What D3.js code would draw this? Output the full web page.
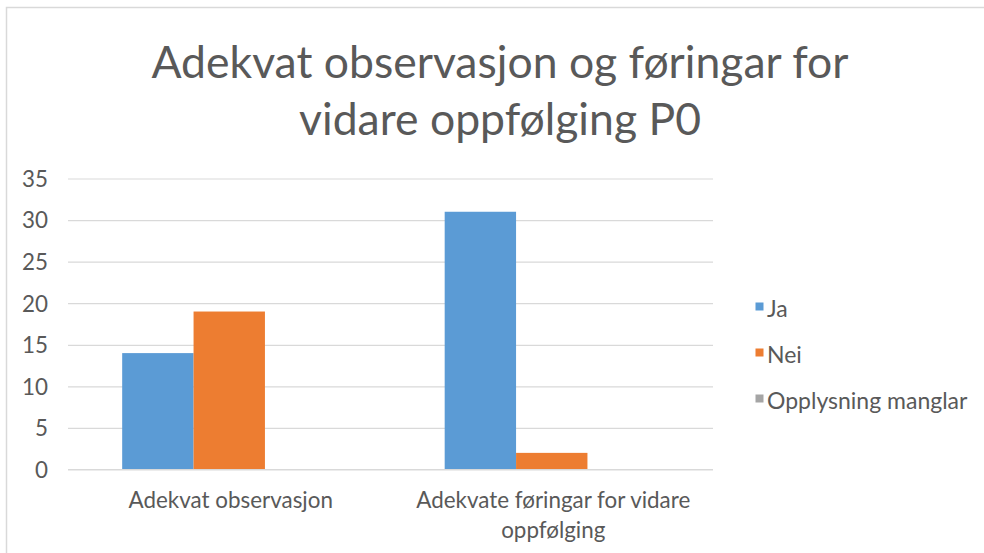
<!DOCTYPE html>
<html>
<head>
<meta charset="utf-8">
<script src="https://cdn.jsdelivr.net/npm/d3@7"></script>
<style>
  html, body { margin: 0; padding: 0; background: #fff; }
  svg { display: block; }
  text { font-family: Lato, "Open Sans", sans-serif; fill: #595959; }
</style>
</head>
<body>
<svg id="chart" width="984" height="553"></svg>
<script>
const titleLines = ["Adekvat observasjon og føringar for", "vidare oppfølging P0"];
const categories = ["Adekvat observasjon", "Adekvate føringar for vidare oppfølging"];
const categoryLines = [["Adekvat observasjon"], ["Adekvate føringar for vidare", "oppfølging"]];
const seriesNames = ["Ja", "Nei", "Opplysning manglar"];
const seriesColors = ["#5b9bd5", "#ed7d31", "#a5a5a5"];
const jaValues = [14, 31];
const neiValues = [19, 2];
const manglarValues = [0, 0];
const yTicks = [0, 5, 10, 15, 20, 25, 30, 35];

const seriesValues = [jaValues, neiValues, manglarValues];

const svg = d3.select("#chart");
const W = 984, H = 553;

// outer chart border (right/bottom run past the frame)
svg.append("rect")
  .attr("x", 6.5).attr("y", 7.5)
  .attr("width", W + 20).attr("height", H + 20)
  .attr("fill", "none").attr("stroke", "#d9d9d9").attr("stroke-width", 1.5);

// title
const title = svg.append("text")
  .attr("text-anchor", "middle")
  .style("font-size", "44.5px");
titleLines.forEach((t, i) => {
  title.append("tspan").attr("x", 500).attr("y", 78 + i * 57).text(t);
});

const plot = { left: 68, right: 713, top: 178.5, bottom: 469.5 };

const y = d3.scaleLinear().domain([0, 35]).range([plot.bottom, plot.top]);
const x0 = d3.scaleBand().domain(categories).range([plot.left, plot.right]).padding(0);
const bw = x0.bandwidth();
const gap = bw * 0.168;
const x1 = d3.scaleBand().domain(seriesNames).range([gap, bw - gap]).padding(0);

// gridlines
const yAxis = d3.axisLeft(y).tickValues(yTicks).tickSize(-(plot.right - plot.left)).tickPadding(20);
const gy = svg.append("g").attr("transform", `translate(${plot.left},0)`).call(yAxis);
gy.select(".domain").remove();
gy.selectAll(".tick line").attr("stroke", "#d9d9d9").attr("stroke-width", 1.2);
gy.selectAll(".tick text").style("font-size", "22.4px").attr("fill", "#595959")
  .attr("x", -20).attr("dy", "0.35em");

// bars
const groups = svg.append("g").selectAll("g")
  .data(categories)
  .join("g")
  .attr("transform", d => `translate(${x0(d)},0)`);

groups.selectAll("rect")
  .data((d, ci) => seriesNames.map((s, si) => ({ s, v: seriesValues[si][ci], c: seriesColors[si] })))
  .join("rect")
  .attr("x", d => x1(d.s))
  .attr("width", x1.bandwidth())
  .attr("y", d => y(d.v))
  .attr("height", d => y(0) - y(d.v))
  .attr("fill", d => d.c);

// baseline axis
svg.append("line")
  .attr("x1", plot.left).attr("x2", plot.right)
  .attr("y1", y(0)).attr("y2", y(0))
  .attr("stroke", "#d9d9d9").attr("stroke-width", 1.2);

// category labels
categories.forEach((c, i) => {
  const t = svg.append("text").attr("text-anchor", "middle").style("font-size", "22.4px");
  categoryLines[i].forEach((line, j) => {
    t.append("tspan").attr("x", x0(c) + bw / 2 + 1.5).attr("y", 508 + j * 30).text(line);
  });
});

// legend
const legend = svg.append("g");
seriesNames.forEach((s, i) => {
  const ly = 309 + i * 46;
  legend.append("rect").attr("x", 755.5).attr("y", ly - 6.5).attr("width", 8).attr("height", 8).attr("fill", seriesColors[i]);
  legend.append("text").attr("x", 767).attr("y", ly).attr("dy", "0.35em").style("font-size", "23px").text(s);
});
</script>
</body>
</html>
